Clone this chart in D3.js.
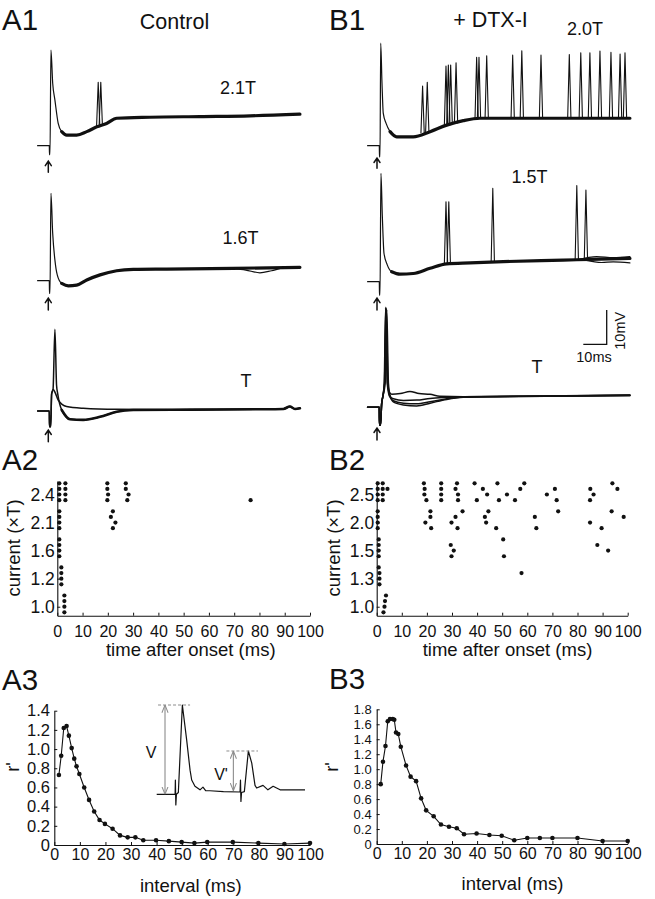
<!DOCTYPE html>
<html><head><meta charset="utf-8">
<script src="https://cdn.jsdelivr.net/npm/d3@7"></script>
<style>
html,body{margin:0;padding:0;background:#fff;}
svg{display:block;font-family:"Liberation Sans",Arial,Helvetica,sans-serif;}
</style></head><body>
<svg id="fig" width="655" height="899"></svg>
<script>
// ---------------- DATA ----------------
// Voltage traces: [time after stimulus (ms), mV above baseline]
const a1TopBase = [[-5,0],[0,0],[0.08,-2.6],[0.3,-2.6],[0.7,27.9],[1.45,18.2],[2.4,13.3],[3.8,6.5],[5.3,4.1],[7.4,3.1],[11.7,3.1],[16,4.1],[20.3,5.5],[24.5,6.5],[28.8,8.0],[43,8.3],[64.4,8.5],[85.8,8.7],[107.1,9.2]];
const a1TopSpikes = [[20.9,5.6,18.5],[22.0,5.9,18.5]]; // [time, foot, peak]
const a1MidBase = [[-5,0],[0,0],[0.08,-3.7],[0.3,-3.7],[0.7,25.5],[1.45,13.8],[2.4,6.0],[3.4,1.7],[5.3,-0.8],[8.1,-1.5],[11.7,-1.3],[16,0.2],[21.7,1.7],[28.8,2.9],[35.9,3.3],[50.2,3.4],[78.6,3.6],[107.1,3.9]];
const a1MidAlt = [[78.6,3.6],[84,3.1],[90,2.3],[95,2.9],[100,3.7],[107.1,3.8]];
const a1BotSpike = [[-5,0],[0,0],[0.08,-4.6],[0.6,-4.6],[1.0,5.0],[1.6,6.3],[2.4,23.8],[3.1,7.5],[3.6,5.0],[5.3,0.3],[8.8,-2.4],[14.5,-2.6],[21.7,-1.7],[28.8,-0.2],[35.9,0.3],[60,0.4],[90,0.5],[100,0.6],[102.8,1.3],[105,0.6],[107.1,0.8]];
const a1BotSub = [[-5,0],[0,0],[0.08,-4.6],[0.6,-4.6],[1.0,5.0],[1.7,6.3],[2.6,5.2],[3.8,3.2],[7.4,1.3],[14.5,0.8],[28.8,0.5],[60,0.4],[90,0.5],[100,0.6],[102.8,1.3],[105,0.6],[107.1,0.8]];
const b1TopBase = [[-5,0],[0,0],[0.08,-3.3],[0.3,-3.3],[0.6,29.9],[1.15,18.2],[1.7,9.4],[2.9,6.5],[4.6,4.1],[7.4,2.6],[14.5,2.6],[21.7,4.1],[28.8,6.0],[35.9,7.3],[43,8.0],[64.4,8.0],[107.1,8.0]];
const b1TopSpikes = [[18.5,3.8,17.4],[20.5,4.1,18.5],[28.5,5.9,23.2],[29.5,6.1,23.5],[30.5,6.3,23.5],[32.8,6.6,24.2],[41.6,7.9,25.8],[42.6,8,25.8],[45.9,8,26.2],[57.0,8,26.4],[60.9,8,27.7],[69.1,8,26.4],[81.2,8,26.6],[86.1,8,27.1],[90.0,8,27.1],[94.3,8,27.6],[99.0,8,27.2],[102.9,8,26.7],[105.0,8,27.1]];
const b1MidBase = [[-5,0],[0,0],[0.08,-3.9],[0.3,-3.9],[0.7,31.6],[1.3,19.0],[2.0,8.3],[3.4,4.9],[5.3,2.9],[8.8,2.2],[14.5,2.4],[21.7,3.9],[28.8,5.2],[38.8,5.5],[50.2,5.8],[78.6,6.3],[90,6.5],[107.1,6.8]];
const b1MidAltHi = [[85,6.4],[92.9,7.3],[100,7.0],[107.1,7.3]];
const b1MidAltLo = [[88,6.3],[95,5.6],[100,5.8],[107.1,5.5]];
const b1MidSpikes = [[28.5,5.1,23.3],[29.7,5.2,23.3],[48.5,5.7,27.2],[84.4,6.4,28.0],[88.3,6.5,26.7]];
const b1BotHigh = [[-5,0],[0,0],[0.08,-5.2],[0.5,-5.2],[1.0,1.0],[1.5,3.1],[2.2,7],[2.8,29.2],[3.5,7],[4.2,4.5],[5.3,3.8],[9,4.0],[13.1,4.6],[17,4.0],[21.7,3.8],[25.9,3.2],[35.9,3.1],[70,3.3],[107.1,3.6]];
const b1BotMid = [[-5,0],[0,0],[0.08,-5.2],[0.5,-5.2],[1.0,1.0],[1.5,3.1],[2.3,7],[3.0,28.8],[3.7,7],[4.5,3.2],[6,2.5],[10.3,2.0],[16,2.1],[21.7,2.6],[28.8,2.9],[35.9,3.1],[70,3.2],[107.1,3.5]];
const b1BotLow = [[-5,0],[0,0],[0.08,-5.2],[0.5,-5.2],[1.0,1.0],[1.5,3.1],[2.5,7],[3.2,28.5],[3.9,7],[4.6,3.5],[6.0,1.6],[10.3,0.7],[16,0.4],[21.7,1.2],[28.8,2.3],[35.9,2.9],[50,3.1],[107.1,3.4]];
const b1BotLow2 = [[-5,0],[0,0],[0.08,-5.2],[0.5,-5.2],[1.0,1.0],[1.5,3.1],[2.1,7],[2.7,29.0],[3.4,7],[4.3,3.3],[6.0,1.9],[10.3,1.2],[16,1.0],[21.7,1.6],[28.8,2.5],[35.9,3.0],[60,3.2],[107.1,3.5]];

// Raster (A2 / B2): spike times (ms) per stimulus level, 4 trials each (top to bottom)
const aLevels = ["1.0","1.2","1.6","2.1","2.4"];
const aRaster10 = [[2.8],[2.8],[2.8],[2.8]];
const aRaster12 = [[1.6],[1.6],[1.6],[1.6]];
const aRaster16 = [[0.8],[0.8],[0.8],[0.8]];
const aRaster21 = [[0.8,22.0],[0.8,21.2],[0.8,23.0],[0.8,22.0]];
const aRaster24 = [[0.8,3.2,19.8,27.1],[0.8,3.2,19.8,27.1],[0.8,3.2,20.1,28.2],[0.8,3.2,19.8,27.7,76.5]];
const bLevels = ["1.0","1.3","1.5","2.0","2.5"];
const bRaster10 = [[3.7],[3.3],[3.1],[2.7]];
const bRaster13 = [[0.8],[1.1,57.7],[1.1],[1.1]];
const bRaster15 = [[0.8,50.4],[0.8,29.5,87.9],[0.8,30.7,92.2],[0.8,29.8,50.7]];
const bRaster20 = [[0.4,21.4,34.2,44.5,72.3,93.6],[0.4,21.4,31.4,43.1,63.0,98.4],[0.4,19.4,29.8,43.6,85.0],[0.4,21.7,32.2,47.6,63.6,89.6]];
const bRaster25 = [[0.4,2.4,18.8,25.7,32.0,39.0,48.1,58.8,93.9],[0.4,2.4,4.3,19.1,25.7,31.4,42.3,57.2,71.0,85.1,95.9],[0.4,2.4,19.0,25.7,32.4,44.0,51.9,67.8,86.4],[0.4,2.4,19.8,25.7,32.4,39.9,48.7,55.1,71.7,85.0]];

// r' vs interval (A3 / B3)
const a3Interval = [1.8,2.7,3.7,4.8,5.7,6.8,7.8,8.7,9.8,11.7,13.6,15.6,17.7,19.8,22.8,25.7,28.7,31.7,34.8,39.8,44.8,49.8,54.8,59.8,69.8,79.8,90,100];
const a3R = [0.73,0.93,1.22,1.24,1.14,1.01,0.90,0.82,0.74,0.60,0.47,0.35,0.26,0.22,0.17,0.10,0.08,0.08,0.05,0.05,0.04,0.03,0.02,0.03,0.03,0.02,0.01,0.02];
const b3Interval = [1.6,2.5,3.5,4.4,5.3,6.4,7.0,7.7,8.6,9.6,11.7,13.5,15.7,17.7,19.7,22.7,25.6,28.8,31.9,34.8,39.8,44.9,49.8,54.8,60,65,70,80,90,100];
const b3R = [0.80,1.10,1.31,1.64,1.67,1.67,1.66,1.49,1.47,1.30,1.05,0.90,0.84,0.61,0.45,0.37,0.26,0.23,0.21,0.13,0.14,0.12,0.11,0.05,0.08,0.08,0.08,0.08,0.04,0.04];
const xTicks = [0,10,20,30,40,50,60,70,80,90,100];
const a3YTicks = [0,0.2,0.4,0.6,0.8,1.0,1.2,1.4];
const b3YTicks = [0,0.2,0.4,0.6,0.8,1.0,1.2,1.4,1.6,1.8];

// Inset schematic (A3): [time units, fraction of V]
const insetTrace = [[0,0],[12.4,0],[12.6,0.16],[12.9,-0.12],[13.3,0],[14.6,0.02],[17.3,1.0],[20.2,0.61],[22.5,0.27],[23.6,0.16],[25.8,0.09],[29.2,0.05],[31.2,0.08],[33,0.04],[35.9,0.04],[45,0.03],[56.2,0.026],[56.5,0.16],[56.8,-0.08],[57.2,0.02],[59.1,0.03],[61.8,0.485],[64.1,0.35],[66.3,0.1],[67.4,0.07],[71.7,0.1],[75,0.05],[78.5,0.09],[83.2,0.05],[100,0.05]];

// ---------------- DRAWING ----------------
const INK = "#111";
const MS_PX = 2.34, MV_PX = 3.43, SPK_W = 0.7;
const svg = d3.select("#fig");

function txt(s, x, y, size, anchor, rot) {
  const t = svg.append("text").text(s).attr("font-size", size).attr("fill", INK)
    .attr("text-anchor", anchor || "start");
  if (rot) t.attr("transform", `translate(${x},${y}) rotate(${rot})`);
  else t.attr("x", x).attr("y", y);
  return t;
}

function drawTrace(p) {
  const x = d3.scaleLinear().domain([0, 100]).range([p.x0, p.x0 + 100 * MS_PX]);
  const y = d3.scaleLinear().domain([0, 10]).range([p.y0, p.y0 - 10 * MV_PX]);
  const smooth = d3.line().x(d => x(d[0])).y(d => y(d[1])).curve(d3.curveMonotoneX);
  const sharp = d3.line().x(d => x(d[0])).y(d => y(d[1]));
  const g = svg.append("g").attr("fill", "none").attr("stroke", INK)
    .attr("stroke-linejoin", "round").attr("stroke-linecap", "round");
  (p.bands || []).forEach(b => g.append("path")
    .attr("d", smooth(b.filter(d => d[0] >= p.bandFrom))).attr("stroke-width", p.bandW || 3.2));
  p.trials.forEach(tr => g.append("path").attr("d", smooth(tr)).attr("stroke-width", p.lw || 1.2));
  (p.spikes || []).forEach(s => g.append("path")
    .attr("d", sharp([[s[0] - SPK_W, s[1]], [s[0], s[2]], [s[0] + SPK_W, s[1]]])).attr("stroke-width", 1.1));
  const ax = p.ax, a0 = p.y0 + p.arrow[0], a1 = p.y0 + p.arrow[1];
  g.append("path").attr("d", `M${ax},${a1}V${a0}M${ax - 3},${a0 + 4.5}L${ax},${a0}L${ax + 3},${a0 + 4.5}`)
    .attr("stroke-width", 1.5).attr("stroke-linejoin", "miter");
  txt(p.label, p.lx, p.ly, 18);
}

[
  {x0: 49.3, y0: 145.7, ax: 48.3, trials: [a1TopBase], bands: [a1TopBase], bandFrom: 5, spikes: a1TopSpikes, arrow: [15.5, 26.5], label: "2.1T", lx: 220, ly: 94.3},
  {x0: 49.3, y0: 280.7, ax: 48.3, trials: [a1MidBase, a1MidAlt], bands: [a1MidBase], bandFrom: 5, arrow: [17.5, 29.3], label: "1.6T", lx: 222.5, ly: 244.3},
  {x0: 49.3, y0: 411, ax: 48.3, trials: [a1BotSpike, a1BotSub], bands: [a1BotSpike], bandFrom: 5.3, bandW: 2.6, lw: 1.5, arrow: [19, 30.7], label: "T", lx: 240.5, ly: 387.3},
  {x0: 379.3, y0: 145.7, ax: 377, trials: [b1TopBase], bands: [b1TopBase], bandFrom: 4.6, spikes: b1TopSpikes, arrow: [12.3, 22.5], label: "2.0T", lx: 567, ly: 35},
  {x0: 379.3, y0: 281.7, ax: 377, trials: [b1MidBase, b1MidAltHi, b1MidAltLo], bands: [b1MidBase], bandFrom: 5.3, spikes: b1MidSpikes, arrow: [16.5, 28.3], label: "1.5T", lx: 511.5, ly: 183.3},
  {x0: 379.3, y0: 407.3, ax: 377, trials: [b1BotHigh, b1BotMid, b1BotLow, b1BotLow2], lw: 1.5, arrow: [20.7, 32.7], label: "T", lx: 531.5, ly: 372.7}
].forEach(drawTrace);

// scale bar (10 ms / 10 mV)
svg.append("path").attr("d", `M${606.7 - 10 * MS_PX},344.3H606.7V${344.3 - 10 * MV_PX}`)
  .attr("fill", "none").attr("stroke", INK).attr("stroke-width", 1.3);
txt("10ms", 594, 361.7, 14.5, "middle");
txt("10mV", 625, 330.8, 14.5, "middle", -90);

// panel labels and titles
[["A1", 2, 29.5], ["B1", 329, 29.5], ["A2", 2, 470], ["B2", 329, 470], ["A3", 2, 689.5], ["B3", 329, 688.5]]
  .forEach(d => txt(d[0], d[1], d[2], 29.5));
txt("Control", 174.5, 29.3, 21.5, "middle");
txt("+ DTX-I", 490.5, 26.5, 21.5, "middle");

function styleAxis(g, size) {
  g.attr("font-family", null).attr("font-size", null);
  g.selectAll("path.domain").attr("stroke", INK).attr("stroke-width", 1.1);
  g.selectAll(".tick line").attr("stroke", INK);
  g.selectAll(".tick text").attr("font-size", size).attr("fill", INK);
}

function drawRaster(p) {
  const x = d3.scaleLinear().domain([0, 100]).range([p.left, p.right]);
  const y = d3.scaleLinear().domain([-0.6, 23.4]).range([615.7, 481.05]);
  const gx = svg.append("g").attr("transform", "translate(0,615.7)")
    .call(d3.axisBottom(x).tickValues(xTicks).tickSizeInner(-3).tickSizeOuter(0).tickPadding(9.5));
  styleAxis(gx, 16);
  const gy = svg.append("g").attr("transform", `translate(${p.left},0)`)
    .call(d3.axisLeft(y).tickValues(d3.range(5).map(i => i * 5 + 1)).tickFormat(v => p.levels[(v - 1) / 5])
      .tickSizeInner(-3).tickSizeOuter(0).tickPadding(2.5));
  styleAxis(gy, 17.5);
  const pts = [];
  p.groups.forEach((grp, li) => grp.forEach((times, ti) => times.forEach(t => pts.push({t, row: li * 5 + (3 - ti)}))));
  svg.append("g").selectAll("circle").data(pts).join("circle")
    .attr("cx", d => x(d.t)).attr("cy", d => y(d.row)).attr("r", 2.1).attr("fill", INK);
  txt("time after onset (ms)", p.xtx, 655.5, 18.5, "middle");
  txt("current (×T)", p.ytx, 548, 18.5, "middle", -90);
}
drawRaster({left: 57.3, right: 310, levels: aLevels, groups: [aRaster10, aRaster12, aRaster16, aRaster21, aRaster24], xtx: 190.8, ytx: 20});
drawRaster({left: 376.7, right: 627.7, levels: bLevels, groups: [bRaster10, bRaster13, bRaster15, bRaster20, bRaster25], xtx: 507.5, ytx: 340});

function drawCurve(p) {
  const x = d3.scaleLinear().domain([0, 100]).range([p.left, p.right]);
  const y = d3.scaleLinear().domain([0, p.ymax]).range([p.bottom, p.top]);
  const gx = svg.append("g").attr("transform", `translate(0,${p.bottom})`)
    .call(d3.axisBottom(x).tickValues(xTicks).tickSizeInner(-3).tickSizeOuter(0).tickPadding(3.5));
  styleAxis(gx, 16);
  const gy = svg.append("g").attr("transform", `translate(${p.left},0)`)
    .call(d3.axisLeft(y).tickValues(p.yTicks).tickFormat(v => v === 0 ? "0" : d3.format(".1f")(v))
      .tickSizeInner(-3).tickSizeOuter(0).tickPadding(p.ypad));
  styleAxis(gy, p.yfs);
  const data = p.xs.map((v, i) => [v, p.ys[i]]);
  svg.append("path").attr("d", d3.line().x(d => x(d[0])).y(d => y(d[1]))(data))
    .attr("fill", "none").attr("stroke", INK).attr("stroke-width", 1.1);
  svg.append("g").selectAll("circle").data(data).join("circle")
    .attr("cx", d => x(d[0])).attr("cy", d => y(d[1])).attr("r", 2.3).attr("fill", INK);
  txt("interval (ms)", p.xtx, p.xty, 18.5, "middle");
  txt("r'", p.ytx, 767, 18.5, "middle", -90);
}
drawCurve({left: 54.3, right: 310, bottom: 845, top: 710.7, ymax: 1.4, yTicks: a3YTicks, ypad: 4.3, yfs: 16.5, xs: a3Interval, ys: a3R, xtx: 190.8, xty: 891.5, ytx: 19});
drawCurve({left: 376.7, right: 627.7, bottom: 844, top: 709.3, ymax: 1.8, yTicks: b3YTicks, ypad: 5, yfs: 13, xs: b3Interval, ys: b3R, xtx: 512.5, xty: 890, ytx: 338});

// inset schematic in A3
(function () {
  const x = d3.scaleLinear().domain([0, 100]).range([156.7, 305]);
  const y = d3.scaleLinear().domain([0, 1]).range([794.3, 705]);
  const GRAY = "#8c8c8c";
  const defs = svg.append("defs");
  defs.append("marker").attr("id", "ah").attr("viewBox", "0 0 10 10").attr("refX", 10).attr("refY", 5)
    .attr("markerWidth", 7).attr("markerHeight", 7).attr("orient", "auto-start-reverse")
    .append("path").attr("d", "M0,1L10,5L0,9").attr("fill", "none").attr("stroke", GRAY).attr("stroke-width", 1.3);
  svg.append("path").attr("d", d3.line().x(d => x(d[0])).y(d => y(d[1]))(insetTrace))
    .attr("fill", "none").attr("stroke", INK).attr("stroke-width", 1.2).attr("stroke-linejoin", "round");
  [[0.9, 22.5, 1], [47, 68.3, 0.485]].forEach(d => svg.append("line")
    .attr("x1", x(d[0])).attr("x2", x(d[1])).attr("y1", y(d[2])).attr("y2", y(d[2]))
    .attr("stroke", GRAY).attr("stroke-width", 1).attr("stroke-dasharray", "3,2"));
  [[5.6, 0, 1], [51.7, 0.04, 0.485]].forEach(d => svg.append("line")
    .attr("x1", x(d[0])).attr("x2", x(d[0])).attr("y1", y(d[1])).attr("y2", y(d[2]))
    .attr("stroke", GRAY).attr("stroke-width", 1.1)
    .attr("marker-start", "url(#ah)").attr("marker-end", "url(#ah)"));
  txt("V", 151, 758.3, 16, "middle");
  txt("V'", 221, 780, 16, "middle");
})();
</script>
</body></html>
